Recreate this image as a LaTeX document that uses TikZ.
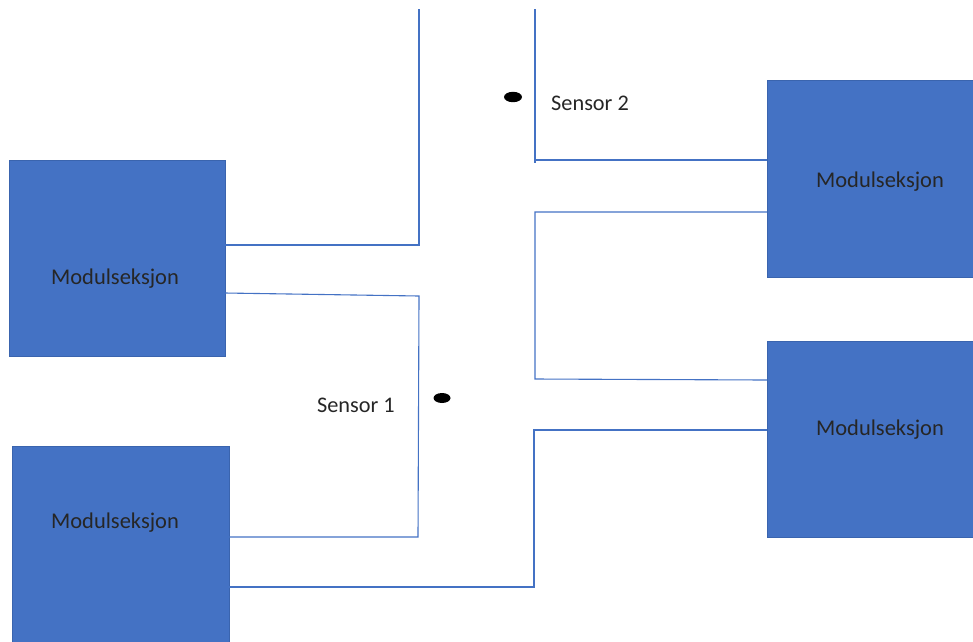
\documentclass[tikz,border=0pt]{standalone}
\usepackage{fontspec}
\setmainfont{Carlito}
\definecolor{boxblue}{HTML}{4472C4}
\definecolor{boxedge}{HTML}{3A64AE}
\definecolor{wire}{HTML}{4472C4}
\begin{document}
\begin{tikzpicture}[x=1pt,y=-1pt,
  modbox/.style={draw=boxedge, line width=0.8pt, fill=boxblue, inner sep=0pt},
  modtext/.style={font=\fontsize{22.5}{24}\selectfont, text=black!85, inner sep=0pt},
  wireline/.style={draw=wire, line width=1.1pt},
  sensortext/.style={font=\fontsize{22.3}{24}\selectfont, text=black!85, inner sep=0pt}]
\useasboundingbox (0,0) rectangle (973,641);
\clip (0,0) rectangle (973,641);
% boxes
\path[modbox] (9,160) rectangle (225,356);
\path[modbox] (12,446) rectangle (229,650);
\path[modbox] (767,80) rectangle (985,277);
\path[modbox] (767,341) rectangle (985,537);
\coordinate (A1) at (225,245);
\coordinate (A2) at (225,293);
\coordinate (B1) at (229,537);
\coordinate (B2) at (229,587);
\coordinate (C1) at (767,160);
\coordinate (C2) at (767,212);
\coordinate (D1) at (767,380);
\coordinate (D2) at (767,430);
\coordinate (T1) at (419,9);
\coordinate (T2) at (535,9);
\node[modtext] (tA) at (115,278.5) {Modulseksjon};
\node[modtext] (tB) at (115,522.5) {Modulseksjon};
\node[modtext] (tC) at (880,182) {Modulseksjon};
\node[modtext] (tD) at (880,429.5) {Modulseksjon};
% wires
\draw[wireline] (A1) -- (419,245) -- (T1);
\draw[wireline] (A2) -- (419,296) -- (418,537) -- (B1);
\draw[wireline] (B2) -- (534,587) -- (534,430) -- (D2);
\draw[wireline] (D1) -- (535,379) -- (535,212) -- (C2);
\draw[wireline] (C1) -- (535,160) -- (535,163) (535,160) -- (T2);
% sensors
\fill (513,97) ellipse [x radius=9, y radius=5.2];
\fill (442,398) ellipse [x radius=8.5, y radius=5];
\node[sensortext, anchor=west] (s2) at (551,103) {Sensor 2};
\node[sensortext, anchor=east] (s1) at (395,405) {Sensor 1};
\end{tikzpicture}
\end{document}
